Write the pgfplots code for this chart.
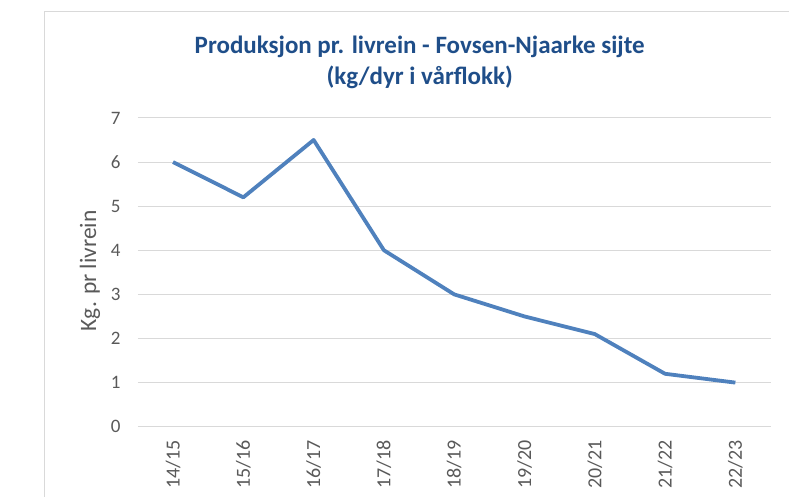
\documentclass[border=0pt]{standalone}
\usepackage{fontspec}
\setmainfont{Carlito}
\usepackage{pgfplots}
\pgfplotsset{compat=1.18}
\usetikzlibrary{calc}
\definecolor{linec}{HTML}{4F81BD}
\definecolor{titlec}{HTML}{1F4E89}
\definecolor{tickc}{HTML}{595959}
\definecolor{gridc}{HTML}{D9D9D9}
\begin{document}
\begin{tikzpicture}
\begin{axis}[
  name=ax, at={(0pt,0pt)}, anchor=origin,
  scale only axis, width=633pt, height=309pt,
  xmin=-0.5, xmax=8.5, ymin=0, ymax=7,
  ytick={0,1,...,7},
  xtick={0,...,8},
  xticklabels={14/15,15/16,16/17,17/18,18/19,19/20,20/21,21/22,22/23},
  x tick label style={rotate=90, anchor=east, font=\fontsize{20}{22}\selectfont, text=tickc},
  y tick label style={font=\fontsize{19}{22}\selectfont, text=tickc},
  /pgf/number format/assume math mode=true,
  ymajorgrids, grid style={gridc, line width=1pt},
  axis line style={draw=none},
  major tick length=0pt,
  xticklabel shift=10pt,
  yticklabel shift=14pt,
  clip=false,
]
\addplot[linec, line width=3.8pt, line join=round, mark=none] coordinates {
(0,6.0) (1,5.2) (2,6.5) (3,4.0) (4,3.0) (5,2.5) (6,2.1) (7,1.2) (8,1.0)
};
\end{axis}
\coordinate (O) at ($(ax.origin)+(-173.17pt,-70pt)$);
\draw[gridc,line width=1pt] ($(O)+(45pt,0pt)$) -- ($(O)+(45pt,485pt)$) -- ($(O)+(789pt,485pt)$);
\node[font=\fontsize{25}{31}\selectfont\bfseries,text=titlec,align=center] at ($(O)+(420pt,435pt)$) {Produksjon pr. livrein - Fovsen-Njaarke sijte\\(kg/dyr i vårflokk)};
\node[font=\fontsize{23.5}{26}\selectfont,text=tickc,rotate=90] at ($(O)+(90pt,226pt)$) {Kg. pr livrein};
\path[use as bounding box] (O) rectangle ++(789pt,497pt);
\end{tikzpicture}
\end{document}
